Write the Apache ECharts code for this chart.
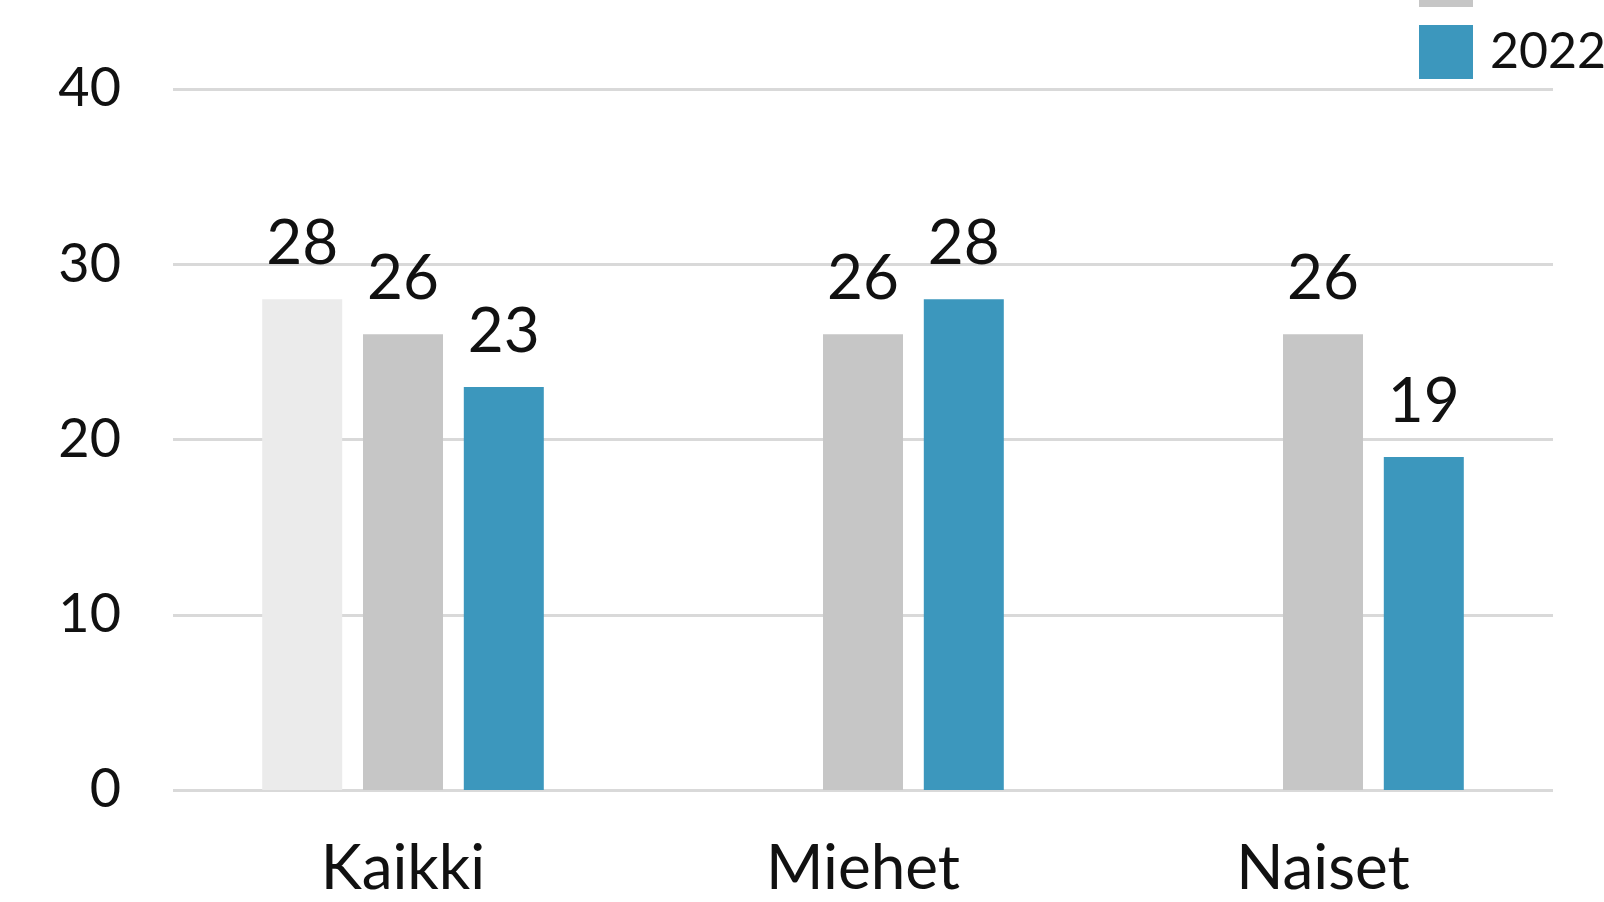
<!DOCTYPE html>
<html>
<head>
<meta charset="utf-8">
<script src="https://cdn.jsdelivr.net/npm/echarts@6/dist/echarts.min.js"></script>
<style>
  html, body { margin: 0; padding: 0; background: #fff; }
  #main { width: 1604px; height: 902px; }
</style>
</head>
<body>
<div id="main"></div>
<script>
// data
const categories = ['Kaikki', 'Miehet', 'Naiset'];
const seriesNames = ['2018', '2020', '2022'];
const values2018 = [28, null, null];
const values2020 = [26, 26, 26];
const values2022 = [23, 28, 19];
const yTicks = [0, 10, 20, 30, 40];

const colors = ['#ebebeb', '#c6c6c6', '#3c97bd'];
const font = 'Lato, "Open Sans", sans-serif';

const chart = echarts.init(document.getElementById('main'));

function barSeries(name, data, color) {
    return {
        name: name,
        type: 'bar',
        data: data,
        barWidth: 80,
        barGap: '26%',
        itemStyle: { color: color },
        label: {
            show: true,
            position: 'top',
            distance: 24,
            color: '#111',
            fontFamily: font,
            fontSize: 62
        }
    };
}

const option = {
    animation: false,
    backgroundColor: '#fff',
    color: colors,
    legend: {
        orient: 'vertical',
        left: 1414,
        top: -124,
        padding: 5,
        itemWidth: 54,
        itemHeight: 54,
        itemGap: 18,
        icon: 'rect',
        textStyle: { fontFamily: font, fontSize: 50, color: '#111', padding: [0, 0, 0, 12] },
        data: seriesNames
    },
    grid: { left: 173, right: 51, top: 89, bottom: 112 },
    xAxis: {
        type: 'category',
        data: categories,
        axisLine: { show: false },
        axisTick: { show: false },
        axisLabel: { margin: 48, fontFamily: font, fontSize: 62, color: '#111' }
    },
    yAxis: {
        type: 'value',
        min: yTicks[0],
        max: yTicks[yTicks.length - 1],
        interval: 10,
        axisLine: { show: false },
        axisTick: { show: false },
        axisLabel: { margin: 52, fontFamily: font, fontSize: 54, color: '#111' },
        splitLine: { lineStyle: { color: '#d9d9d9', width: 3 } }
    },
    series: [
        barSeries(seriesNames[0], values2018, colors[0]),
        barSeries(seriesNames[1], values2020, colors[1]),
        barSeries(seriesNames[2], values2022, colors[2])
    ]
};

chart.setOption(option);
</script>
</body>
</html>
